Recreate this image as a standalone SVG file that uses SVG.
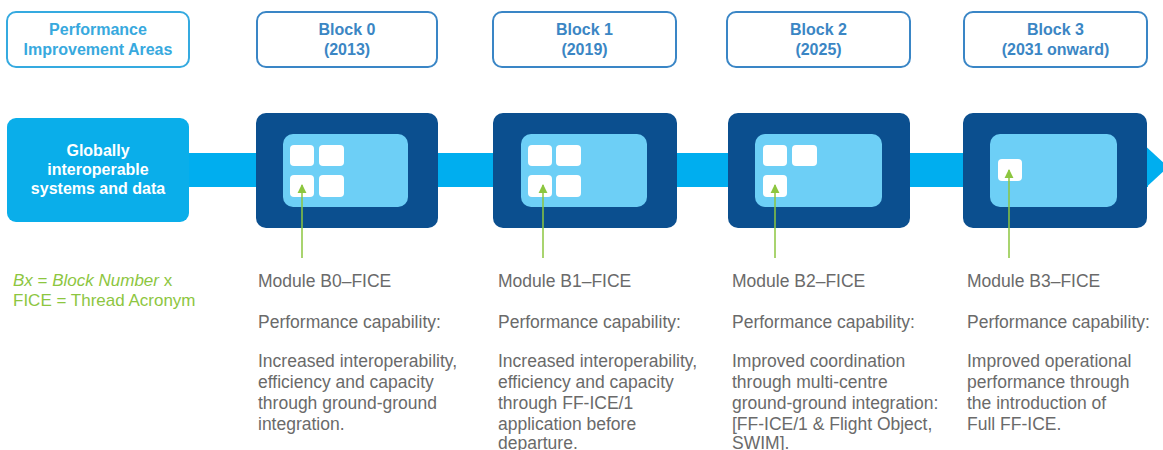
<svg xmlns="http://www.w3.org/2000/svg" width="1163" height="450" viewBox="0 0 1163 450">
<defs>
<style>
.hdr{fill:#fff;stroke:#3a86c6;stroke-width:2}
.hdr0{fill:#fff;stroke:#35aae0;stroke-width:2}
.ht{font-family:"Liberation Sans",Arial,sans-serif;font-size:16px;font-weight:bold;fill:#3b86c4;text-anchor:middle}
.ht0{fill:#38a9de}
.blk{fill:#0b4f8f}
.inn{fill:#6dcff6}
.sq{fill:#fff}
.gt{font-family:"Liberation Sans",Arial,sans-serif;font-size:16px;font-weight:bold;fill:#fff;text-anchor:middle}
.bt{font-family:"Liberation Sans",Arial,sans-serif;font-size:17.5px;fill:#6a6a6a}
.lg{font-family:"Liberation Sans",Arial,sans-serif;font-size:17px;fill:#8dc63f}
.ga{stroke:#8cc63f;stroke-width:1.5;fill:none;marker-end:url(#ah)}
</style>
<marker id="ah" viewBox="0 0 10 10" refX="9" refY="5" markerWidth="9" markerHeight="10" markerUnits="userSpaceOnUse" orient="auto">
<path d="M0,0 L10,5 L0,10 z" fill="#8cc63f"/>
</marker>
</defs>
<rect width="1163" height="450" fill="#fff"/>

<g id="header-areas">
<rect class="hdr0" x="7" y="12" width="182" height="55" rx="9"/>
<text class="ht ht0" x="98" y="35">Performance</text>
<text class="ht ht0" x="98" y="55">Improvement Areas</text>
</g>
<g id="header-block0">
<rect class="hdr" x="257" y="12" width="180" height="55" rx="9"/>
<text class="ht" x="347" y="35">Block 0</text>
<text class="ht" x="347" y="55">(2013)</text>
</g>
<g id="header-block1">
<rect class="hdr" x="493" y="12" width="183" height="55" rx="9"/>
<text class="ht" x="584.5" y="35">Block 1</text>
<text class="ht" x="584.5" y="55">(2019)</text>
</g>
<g id="header-block2">
<rect class="hdr" x="727" y="12" width="183" height="55" rx="9"/>
<text class="ht" x="818.5" y="35">Block 2</text>
<text class="ht" x="818.5" y="55">(2025)</text>
</g>
<g id="header-block3">
<rect class="hdr" x="964" y="12" width="183" height="55" rx="9"/>
<text class="ht" x="1055.5" y="35">Block 3</text>
<text class="ht" x="1055.5" y="55">(2031 onward)</text>
</g>

<g id="timeline">
<rect x="180" y="153" width="968" height="34" fill="#00aeef"/>
<polygon points="1140,141 1168,167 1140,193" fill="#00aeef"/>
</g>

<g id="area-globally">
<rect x="7" y="118" width="182" height="104" rx="9" fill="#0aaeea"/>
<text class="gt" x="98" y="156">Globally</text>
<text class="gt" x="98" y="175">interoperable</text>
<text class="gt" x="98" y="194">systems and data</text>
</g>

<g id="block0">
<rect class="blk" x="256" y="113" width="182" height="115" rx="10"/>
<rect class="inn" x="283" y="134" width="125" height="73" rx="10"/>
<rect class="sq" x="290" y="145" width="24" height="21" rx="4"/>
<rect class="sq" x="319" y="145" width="25" height="21" rx="4"/>
<rect class="sq" x="290" y="175" width="24" height="22" rx="4"/>
<rect class="sq" x="319" y="175" width="25" height="22" rx="4"/>
</g>
<g id="block1">
<rect class="blk" x="493" y="113" width="184" height="115" rx="10"/>
<rect class="inn" x="521" y="134" width="126" height="73" rx="10"/>
<rect class="sq" x="528" y="145" width="24" height="21" rx="4"/>
<rect class="sq" x="556" y="145" width="25" height="21" rx="4"/>
<rect class="sq" x="528" y="175" width="24" height="22" rx="4"/>
<rect class="sq" x="556" y="175" width="25" height="22" rx="4"/>
</g>
<g id="block2">
<rect class="blk" x="728" y="113" width="182" height="115" rx="10"/>
<rect class="inn" x="755" y="134" width="127" height="73" rx="10"/>
<rect class="sq" x="763" y="145" width="24" height="21" rx="4"/>
<rect class="sq" x="792" y="145" width="25" height="21" rx="4"/>
<rect class="sq" x="763" y="175" width="24" height="22" rx="4"/>
</g>
<g id="block3">
<rect class="blk" x="963" y="113" width="184" height="115" rx="10"/>
<rect class="inn" x="990" y="134" width="127" height="73" rx="10"/>
<rect class="sq" x="998" y="159" width="24" height="22" rx="4"/>
</g>

<g id="connectors">
<line class="ga" x1="302" y1="258" x2="302" y2="185"/>
<line class="ga" x1="543" y1="258" x2="543" y2="185"/>
<line class="ga" x1="775" y1="258" x2="775" y2="185"/>
<line class="ga" x1="1009" y1="258" x2="1009" y2="170"/>
</g>

<g id="legend">
<text class="lg" x="13" y="286"><tspan font-style="italic">Bx</tspan> = <tspan font-style="italic">Block Number</tspan> x</text>
<text class="lg" x="13" y="306">FICE = Thread Acronym</text>
</g>

<g id="module-b0">
<text class="bt" x="258" y="287">Module B0–FICE</text>
<text class="bt" x="258" y="328">Performance capability:</text>
<text class="bt" x="258" y="367">Increased interoperability,</text>
<text class="bt" x="258" y="388">efficiency and capacity</text>
<text class="bt" x="258" y="409">through ground-ground</text>
<text class="bt" x="258" y="430">integration.</text>
</g>
<g id="module-b1">
<text class="bt" x="498" y="287">Module B1–FICE</text>
<text class="bt" x="498" y="328">Performance capability:</text>
<text class="bt" x="498" y="367">Increased interoperability,</text>
<text class="bt" x="498" y="388">efficiency and capacity</text>
<text class="bt" x="498" y="409">through FF-ICE/1</text>
<text class="bt" x="498" y="430">application before</text>
<text class="bt" x="498" y="449">departure.</text>
</g>
<g id="module-b2">
<text class="bt" x="732" y="287">Module B2–FICE</text>
<text class="bt" x="732" y="328">Performance capability:</text>
<text class="bt" x="732" y="367">Improved coordination</text>
<text class="bt" x="732" y="388">through multi-centre</text>
<text class="bt" x="732" y="409">ground-ground integration:</text>
<text class="bt" x="732" y="430">[FF-ICE/1 &amp; Flight Object,</text>
<text class="bt" x="732" y="449">SWIM].</text>
</g>
<g id="module-b3">
<text class="bt" x="967" y="287">Module B3–FICE</text>
<text class="bt" x="967" y="328">Performance capability:</text>
<text class="bt" x="967" y="367">Improved operational</text>
<text class="bt" x="967" y="388">performance through</text>
<text class="bt" x="967" y="409">the introduction of</text>
<text class="bt" x="967" y="430">Full FF-ICE.</text>
</g>
</svg>
